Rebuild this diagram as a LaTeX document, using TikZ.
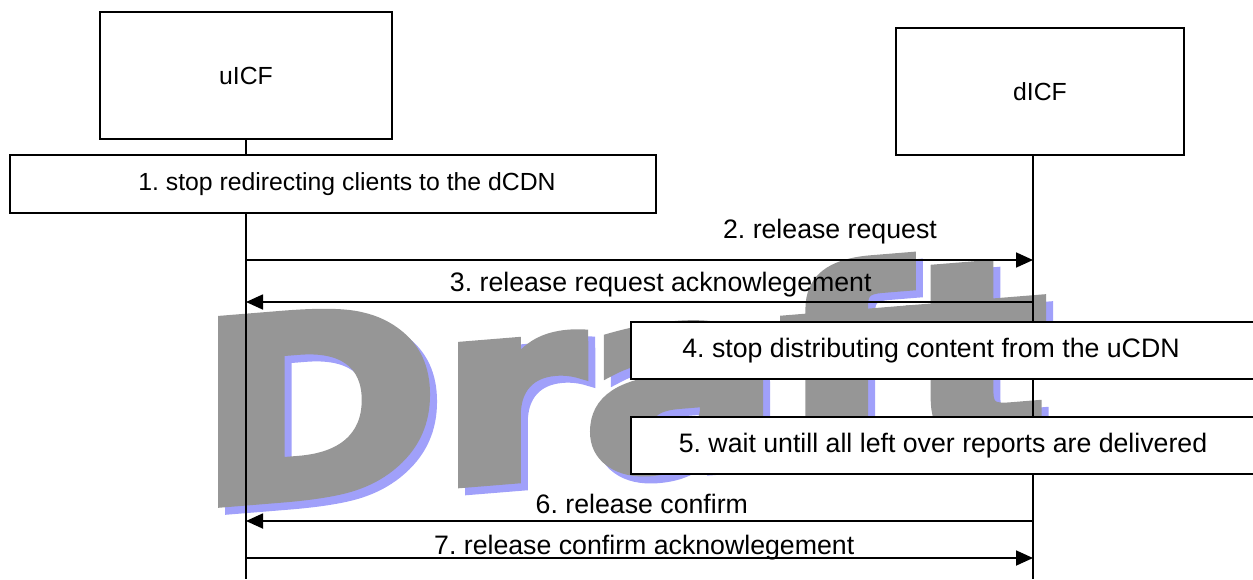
\documentclass[tikz,border=0pt]{standalone}
\usepackage{fontspec}
\setmainfont{Liberation Sans}
\newfontfamily\draftfont[FakeBold=4]{DejaVu Sans Bold}
\usetikzlibrary{arrows.meta}
\definecolor{markgray}{RGB}{150,150,150}
\definecolor{markblue}{RGB}{160,160,250}
\frenchspacing

\begin{document}
\begin{tikzpicture}[x=0.02cm, y=-0.02cm, font=\fontsize{14.1pt}{17pt}\selectfont,
    entity/.style={draw, line width=1pt, fill=white, minimum width=5.84cm, minimum height=2.54cm},
    action/.style={draw, line width=1pt, fill=white, minimum width=12.78cm, minimum height=1.14cm},
    life/.style={draw, line width=0.6pt},
    line/.style={draw, -{Triangle[length=0.34cm, width=0.3cm]}, line width=1pt},
    wide/.style={font=\fontsize{15.2pt}{18pt}\selectfont},
    msg/.style={wide, anchor=base, inner sep=0pt},
    wmark/.style={font=\draftfont\fontsize{142pt}{142pt}\selectfont, inner sep=0pt, transform shape, xscale=1.17, yslant=0.095},
    ]
    \useasboundingbox (0,0) rectangle (1253,579);

    % Draft mark, behind everything
    \begin{scope}[shift={(629,384)}]
      \node [wmark, text=markblue] (shade) {Draft};
    \end{scope}
    \begin{scope}[shift={(622,377)}]
      \node [wmark, text=markgray] (mark) {Draft};
    \end{scope}

    % Place nodes
    \node [entity] (uicf) at (246,75.5) {uICF};
    \node [entity, minimum width=5.76cm] (dicf) at (1040,91.5) {dICF};
    \coordinate (uend) at (246,579);
    \coordinate (dend) at (1033,579);

    % Lifelines
    \path [life] (uicf.south) -- (uend);
    \path [life] (dicf.south -| dend) -- (dend);

    % Local steps
    \node [action, minimum width=12.92cm, minimum height=1.16cm,
      label={[xshift=0.28cm]center:1. stop redirecting clients to the dCDN}] (stop) at (333,184) {};
    \node [action, label={[wide, xshift=-0.39cm]center:4. stop distributing content from the uCDN}] (halt) at (950.5,350.5) {};
    \node [action, label={[wide, xshift=-0.15cm]center:5. wait untill all left over reports are delivered}] (wait) at (950.5,445.5) {};

    % Message ends
    \coordinate (u2) at (246,260); \coordinate (d2) at (1033,260);
    \coordinate (u3) at (246,302); \coordinate (d3) at (1033,302);
    \coordinate (u6) at (246,521); \coordinate (d6) at (1033,521);
    \coordinate (u7) at (246,558); \coordinate (d7) at (1033,558);

    % Draw edges
    \path [line] (u2) -- node [msg, pos=0.742, yshift=0.44cm] {2. release request} (d2);
    \path [line] (d3) -- node [msg, pos=0.473, yshift=0.22cm] {3. release request acknowlegement} (u3);
    \path [line] (d6) -- node [msg, pos=0.497, yshift=0.16cm] {6. release confirm} (u6);
    \path [line] (u7) -- node [msg, pos=0.506, yshift=0.08cm] {7. release confirm acknowlegement} (d7);
  \end{tikzpicture}
\end{document}
